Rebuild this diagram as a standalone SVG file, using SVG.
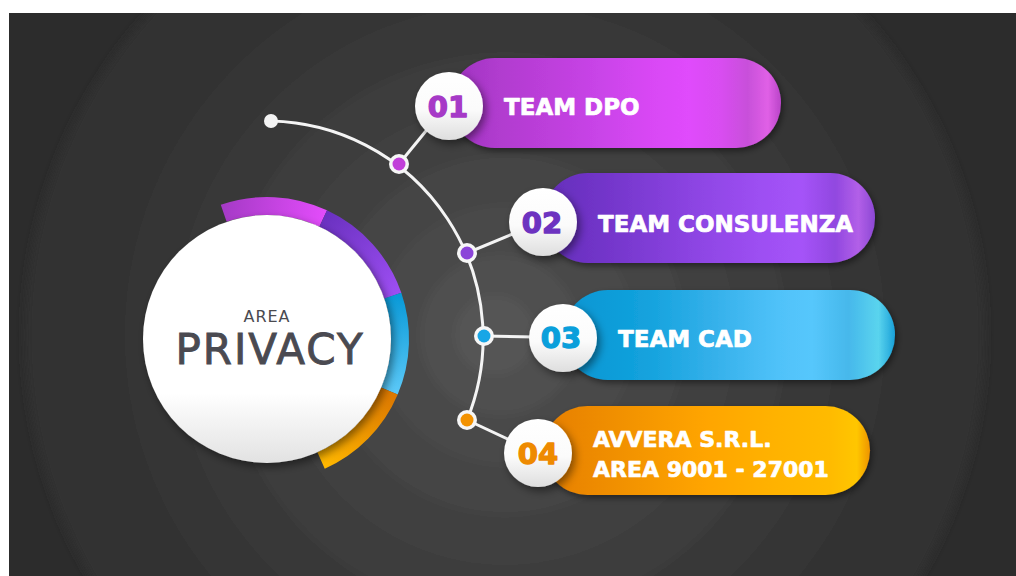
<svg xmlns="http://www.w3.org/2000/svg" width="1016" height="576" viewBox="0 0 1016 576">
<defs>
<style>
.num{font-family:"DejaVu Sans","Liberation Sans",sans-serif;font-weight:bold;font-size:29px;text-anchor:middle;stroke-width:1.3;stroke-linejoin:round}
.lbl{font-family:"DejaVu Sans","Liberation Sans",sans-serif;font-weight:bold;font-size:23px;fill:#ffffff;stroke:#ffffff;stroke-width:0.7;stroke-linejoin:round}
.lbl4{font-size:22px}
.conn{fill:none;stroke:#f4f4f4;stroke-width:3}
.dotring{fill:#f6f6f6}
</style>
<clipPath id="bgClip"><rect x="9" y="13" width="1007" height="563"/></clipPath>
<filter id="blurBg" x="-10%" y="-10%" width="120%" height="120%"><feGaussianBlur stdDeviation="4"/></filter>
<filter id="sh" x="-30%" y="-30%" width="160%" height="160%"><feDropShadow dx="3" dy="4" stdDeviation="4" flood-color="#000" flood-opacity="0.45"/></filter>
<filter id="shp" x="-10%" y="-20%" width="120%" height="150%"><feDropShadow dx="2" dy="3" stdDeviation="3" flood-color="#000" flood-opacity="0.45"/></filter>
<linearGradient id="gWhite" x1="0" y1="0" x2="0" y2="1">
<stop offset="0" stop-color="#ffffff"/><stop offset="0.72" stop-color="#ffffff"/><stop offset="1" stop-color="#e2e2e2"/>
</linearGradient>
<linearGradient id="gNum" x1="0" y1="0" x2="0" y2="1">
<stop offset="0" stop-color="#ffffff"/><stop offset="0.55" stop-color="#fbfbfb"/><stop offset="1" stop-color="#dedede"/>
</linearGradient>
<linearGradient id="gP1" x1="0" y1="0" x2="1" y2="0">
<stop offset="0" stop-color="#9e32c0"/><stop offset="0.15" stop-color="#b13ccf"/><stop offset="0.3" stop-color="#bd3fdb"/><stop offset="0.45" stop-color="#c944e8"/><stop offset="0.6" stop-color="#d847f4"/><stop offset="0.72" stop-color="#e04bfc"/><stop offset="0.82" stop-color="#d84df0"/><stop offset="0.9" stop-color="#c850da"/><stop offset="0.96" stop-color="#e060e6"/><stop offset="1" stop-color="#b945c8"/>
</linearGradient>
<linearGradient id="gP2" x1="0" y1="0" x2="1" y2="0">
<stop offset="0" stop-color="#642dba"/><stop offset="0.2" stop-color="#7436cb"/><stop offset="0.45" stop-color="#8c44e2"/><stop offset="0.65" stop-color="#9d4ff2"/><stop offset="0.78" stop-color="#a553f8"/><stop offset="0.88" stop-color="#9148e0"/><stop offset="0.95" stop-color="#b25fe8"/><stop offset="1" stop-color="#8c48d4"/>
</linearGradient>
<linearGradient id="gP3" x1="0" y1="0" x2="1" y2="0">
<stop offset="0" stop-color="#0795d2"/><stop offset="0.25" stop-color="#13a2dd"/><stop offset="0.45" stop-color="#34b0ea"/><stop offset="0.65" stop-color="#50c2f9"/><stop offset="0.75" stop-color="#56c7fc"/><stop offset="0.86" stop-color="#46b8eb"/><stop offset="0.95" stop-color="#5ad4ee"/><stop offset="1" stop-color="#1aa0d8"/>
</linearGradient>
<linearGradient id="gP4" x1="0" y1="0" x2="1" y2="0">
<stop offset="0" stop-color="#e67e00"/><stop offset="0.25" stop-color="#f29200"/><stop offset="0.5" stop-color="#ffa500"/><stop offset="0.72" stop-color="#ffb300"/><stop offset="0.88" stop-color="#ffbb00"/><stop offset="0.96" stop-color="#ffc600"/><stop offset="1" stop-color="#ee9400"/>
</linearGradient>
<linearGradient id="gR1" gradientUnits="userSpaceOnUse" x1="222" y1="210" x2="324" y2="215"><stop offset="0" stop-color="#a53ac6"/><stop offset="1" stop-color="#e24cfa"/></linearGradient>
<linearGradient id="gR2" gradientUnits="userSpaceOnUse" x1="323" y1="218" x2="393" y2="296"><stop offset="0" stop-color="#6a31c0"/><stop offset="1" stop-color="#9d4ef2"/></linearGradient>
<linearGradient id="gR3" gradientUnits="userSpaceOnUse" x1="393" y1="296" x2="389" y2="391"><stop offset="0" stop-color="#0a9ad8"/><stop offset="1" stop-color="#5ac8f7"/></linearGradient>
<linearGradient id="gR4" gradientUnits="userSpaceOnUse" x1="389" y1="391" x2="321" y2="461"><stop offset="0" stop-color="#dc7800"/><stop offset="1" stop-color="#ffb700"/></linearGradient>
</defs>

<rect x="0" y="0" width="1016" height="576" fill="#ffffff"/>
<rect x="9" y="13" width="1007" height="563" fill="#2c2c2c"/>
<g clip-path="url(#bgClip)">
<g id="background" filter="url(#blurBg)">
<circle cx="505" cy="335" r="480" fill="#303030"/>
<circle cx="505" cy="335" r="430" fill="#333333"/>
<circle cx="505" cy="335" r="380" fill="#363636"/>
<circle cx="505" cy="335" r="330" fill="#393939"/>
<circle cx="505" cy="335" r="280" fill="#3d3d3d"/>
<circle cx="505" cy="335" r="230" fill="#414141"/>
<circle cx="505" cy="335" r="180" fill="#454545"/>
<circle cx="505" cy="335" r="130" fill="#4a4a4a"/>
<circle cx="500" cy="335" r="80" fill="#4f4f4f"/>
<circle cx="495" cy="335" r="40" fill="#545454"/>
</g>
</g>

<g id="center-node">
<g id="ring">
<path d="M 223.7 213.2 A 133 133 0 0 1 323.2 218.5" fill="none" stroke="url(#gR1)" stroke-width="18"/>
<path d="M 323.2 218.5 A 133 133 0 0 1 392.8 295.7" fill="none" stroke="url(#gR2)" stroke-width="18"/>
<path d="M 392.8 295.7 A 133 133 0 0 1 389.4 391.0" fill="none" stroke="url(#gR3)" stroke-width="18"/>
<path d="M 389.4 391.0 A 133 133 0 0 1 321.1 460.5" fill="none" stroke="url(#gR4)" stroke-width="18"/>
</g>
<circle cx="267" cy="339" r="124" fill="url(#gWhite)" filter="url(#sh)"/>
<text x="267" y="322" font-family="DejaVu Sans, Liberation Sans, sans-serif" font-size="16" letter-spacing="1" fill="#4a4a50" text-anchor="middle">AREA</text>
<text x="270" y="364" font-family="DejaVu Sans, Liberation Sans, sans-serif" font-size="42" letter-spacing="2" fill="#4a4a51" stroke="#4a4a51" stroke-width="0.9" text-anchor="middle">PRIVACY</text>
</g>

<g id="connectors">
<path class="conn" d="M 271 121 A 217 217 0 0 1 467 420"/>
<line class="conn" x1="399" y1="164" x2="430" y2="126"/>
<line class="conn" x1="467" y1="253" x2="515" y2="233"/>
<line class="conn" x1="484" y1="336" x2="535" y2="337"/>
<line class="conn" x1="467" y1="420" x2="512" y2="441"/>
<circle cx="271" cy="121" r="7" fill="#f4f4f4"/>
<circle class="dotring" cx="399" cy="164" r="10"/><circle cx="399" cy="164" r="6.5" fill="#c13fd9"/>
<circle class="dotring" cx="467" cy="253" r="10"/><circle cx="467" cy="253" r="6.5" fill="#8b44d9"/>
<circle class="dotring" cx="484" cy="336" r="10"/><circle cx="484" cy="336" r="6.5" fill="#18a6e6"/>
<circle class="dotring" cx="467" cy="420" r="10"/><circle cx="467" cy="420" r="6.5" fill="#f39200"/>
</g>

<g id="node-01">
<rect x="450" y="58" width="331" height="90" rx="45" fill="url(#gP1)" filter="url(#shp)"/>
<circle cx="449" cy="106" r="34" fill="url(#gNum)" filter="url(#sh)"/>
<text class="num" x="448" y="117" fill="#a63ac7" stroke="#a63ac7">01</text>
<text class="lbl" x="504" y="115">TEAM DPO</text>
</g>

<g id="node-02">
<rect x="543" y="173" width="332" height="90" rx="45" fill="url(#gP2)" filter="url(#shp)"/>
<circle cx="543" cy="222" r="34" fill="url(#gNum)" filter="url(#sh)"/>
<text class="num" x="542" y="233" fill="#6d33c0" stroke="#6d33c0">02</text>
<text class="lbl" x="598" y="232">TEAM CONSULENZA</text>
</g>

<g id="node-03">
<rect x="563" y="290" width="332" height="90" rx="45" fill="url(#gP3)" filter="url(#shp)"/>
<circle cx="563" cy="338" r="34" fill="url(#gNum)" filter="url(#sh)"/>
<text class="num" x="561" y="348" fill="#0a9fdb" stroke="#0a9fdb">03</text>
<text class="lbl" x="618" y="347">TEAM CAD</text>
</g>

<g id="node-04">
<rect x="543" y="406" width="327" height="89" rx="44.5" fill="url(#gP4)" filter="url(#shp)"/>
<circle cx="538" cy="453" r="34" fill="url(#gNum)" filter="url(#sh)"/>
<text class="num" x="538" y="464" fill="#ee8a00" stroke="#ee8a00">04</text>
<text class="lbl lbl4" x="593" y="447">AVVERA S.R.L.</text>
<text class="lbl lbl4" x="593" y="477">AREA 9001 - 27001</text>
</g>
</svg>
